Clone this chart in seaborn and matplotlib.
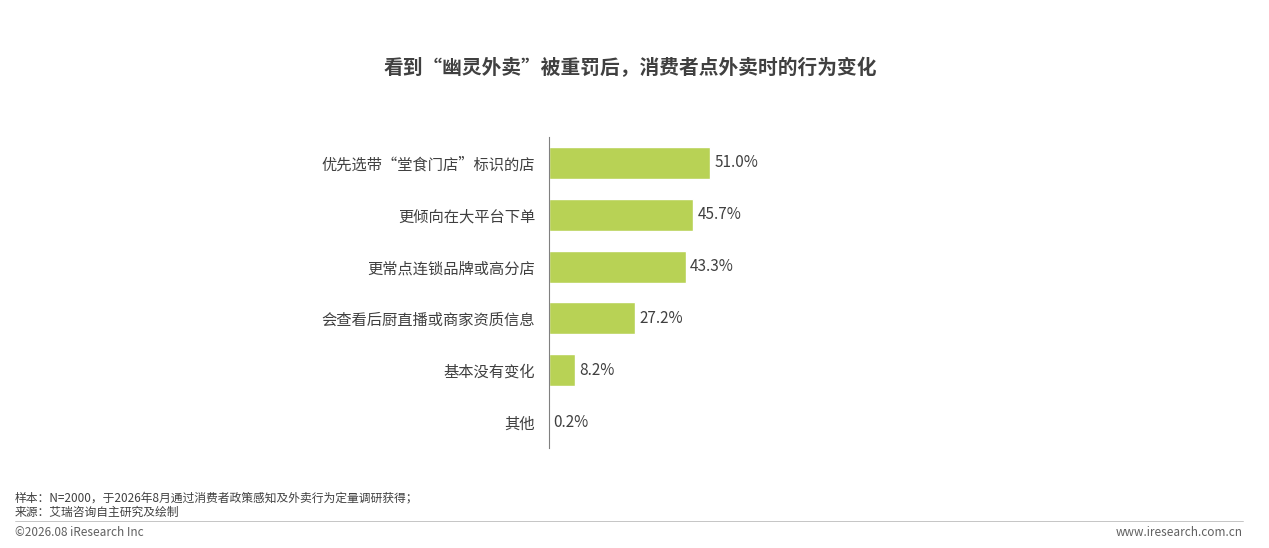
import matplotlib
matplotlib.use("Agg")
import matplotlib.pyplot as plt
import seaborn as sns
import pandas as pd

categories = ["优先选带“堂食门店”标识的店", "更倾向在大平台下单", "更常点连锁品牌或高分店",
              "会查看后厨直播或商家资质信息", "基本没有变化", "其他"]
values = [51.0, 45.7, 43.3, 27.2, 8.2, 0.2]

sns.set_theme(style="white")
plt.rcParams['font.family'] = ['Noto Sans CJK SC', 'DejaVu Sans']

fig = plt.figure(figsize=(12.69, 5.48), dpi=100)
ax = fig.add_axes([0.4326, 0.1825, 0.25, 0.5675])
df = pd.DataFrame({"cat": categories, "val": values})
sns.barplot(data=df, x="val", y="cat", color="#B8D255", saturation=1, width=0.62, ax=ax)
ax.set_xlim(0, 100.4)
ax.set_ylim(5.5, -0.5)
for i, v in enumerate(values):
    ax.text(v + 1.3, i, f"{v:.1f}%", va="center", ha="left", fontsize=11, color="#404040")
ax.set_xlabel(""); ax.set_ylabel("")
ax.set_xticks([])
ax.tick_params(axis="y", length=0, labelsize=11, labelcolor="#404040", pad=10)
for s in ["top", "right", "bottom"]:
    ax.spines[s].set_visible(False)
ax.spines["left"].set_color("#808080")
ax.spines["left"].set_linewidth(0.8)

fig.text(0.4965, 1 - 68/548, "看到“幽灵外卖”被重罚后，消费者点外卖时的行为变化", ha="center", va="center",
         fontsize=14.2, fontweight="bold", color="#404040")
fig.text(15/1269, 1 - 498/548, "样本：N=2000，于2026年8月通过消费者政策感知及外卖行为定量调研获得；", fontsize=8.5, color="#404040", va="center")
fig.text(15/1269, 1 - 512/548, "来源：艾瑞咨询自主研究及绘制", fontsize=8.5, color="#404040", va="center")
fig.add_artist(plt.Line2D([15/1269, 1243/1269], [1 - 521/548]*2, color="#BBBBBB", lw=0.6))
fig.text(15/1269, 1 - 533/548, "©2026.08 iResearch Inc", fontsize=8.5, color="#606060", va="center")
fig.text(1243/1269, 1 - 533/548, "www.iresearch.com.cn", fontsize=8.5, color="#606060", va="center", ha="right")
fig.savefig("out.png", dpi=100)
